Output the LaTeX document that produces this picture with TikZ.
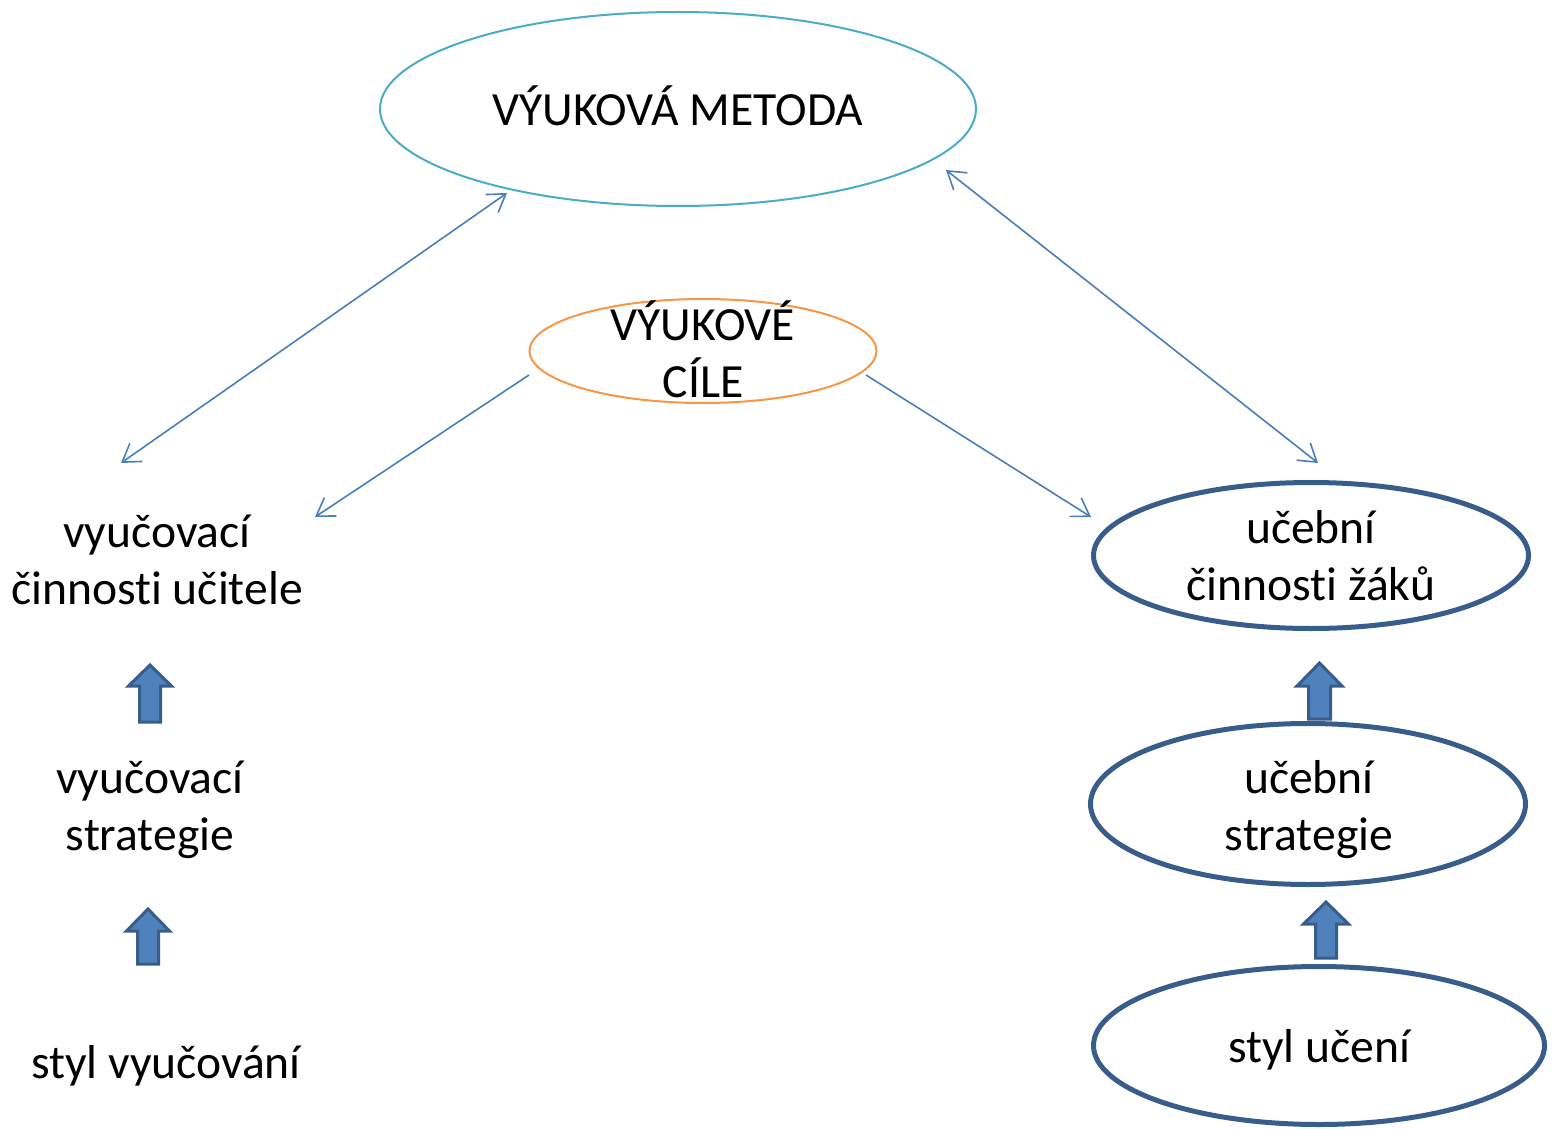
\documentclass[tikz,border=0pt]{standalone}
\usepackage{fontspec}
\setmainfont{Carlito}[Ligatures=CommonOff]
\usetikzlibrary{arrows.meta,shapes.geometric}
\definecolor{cteal}{HTML}{4BACC6}
\definecolor{corange}{HTML}{F79646}
\definecolor{cline}{HTML}{4A7EBB}
\definecolor{cdark}{HTML}{385D8A}
\definecolor{cfill}{HTML}{4F81BD}
\newcommand{\uparrowblock}[6]{% x, tip y, head base y, bottom y, head half, shaft half
  \draw[blockarrow] (#1,#2) -- (#1+#5,#3) -- (#1+#6,#3) -- (#1+#6,#4) -- (#1-#6,#4) -- (#1-#6,#3) -- (#1-#5,#3) -- cycle;}
\begin{document}
\begin{tikzpicture}[x=1pt,y=-1pt,
  every node/.style={font=\fontsize{47.6}{57}\selectfont, align=center, inner sep=0pt},
  ell/.style={ellipse, inner sep=0pt, outer sep=0pt},
  darkell/.style={ell, draw=cdark, line width=5pt},
  conn/.style={draw=cline, line width=1.6pt},
  >={Straight Barb[length=17pt,width=22pt]},
  blockarrow/.style={draw=cdark, fill=cfill, line width=3pt, line join=miter}]
\useasboundingbox (0,0) rectangle (1561,1129);

% ellipses
\node[ell, draw=cteal, line width=2pt, minimum width=596pt, minimum height=194pt] (metoda) at (678,109) {};
\node (metodatext) at (678,105.5) {VÝUKOVÁ METODA};
\node[ell, draw=corange, line width=2pt, minimum width=347pt, minimum height=104pt] (cile) at (703,351) {};
\node (ciletext) at (703,349) {VÝUKOVÉ\\CÍLE};
\node[darkell, minimum width=435pt, minimum height=146pt] (zak) at (1311,555.5) {};
\node (zaktext) at (1311,556) {učební\\činnosti žáků};
\node[darkell, minimum width=435pt, minimum height=161pt] (ustrat) at (1308,804) {};
\node (ustrattext) at (1309,810) {učební\\strategie};
\node[darkell, minimum width=451pt, minimum height=158pt] (ustyl) at (1319,1045.5) {};
\node (ustyltext) at (1319,1050) {styl učení};

% left texts
\node (vcin) at (157,560) {vyučovací\\činnosti učitele};
\node (vstrat) at (150,810) {vyučovací\\strategie};
\node (vstyl) at (166,1066) {styl vyučování};

% connector ends
\coordinate (a1s) at (507,193);
\coordinate (a1e) at (121,463);
\coordinate (a2s) at (946,170);
\coordinate (a2e) at (1318,463);
\coordinate (a3s) at (529,375);
\coordinate (a3e) at (315,517);
\coordinate (a4s) at (866,375);
\coordinate (a4e) at (1091,517);

\draw[conn,<->] (a1s) -- (a1e);
\draw[conn,<->] (a2s) -- (a2e);
\draw[conn,->] (a3s) -- (a3e);
\draw[conn,->] (a4s) -- (a4e);

% block arrows
\uparrowblock{150}{665}{686}{722}{21.5}{10.5}
\uparrowblock{148}{909}{931}{964}{21.5}{10.5}
\uparrowblock{1319.5}{663}{686}{719}{22.5}{11}
\uparrowblock{1326}{902}{924}{958}{22.5}{10.5}
\end{tikzpicture}
\end{document}
